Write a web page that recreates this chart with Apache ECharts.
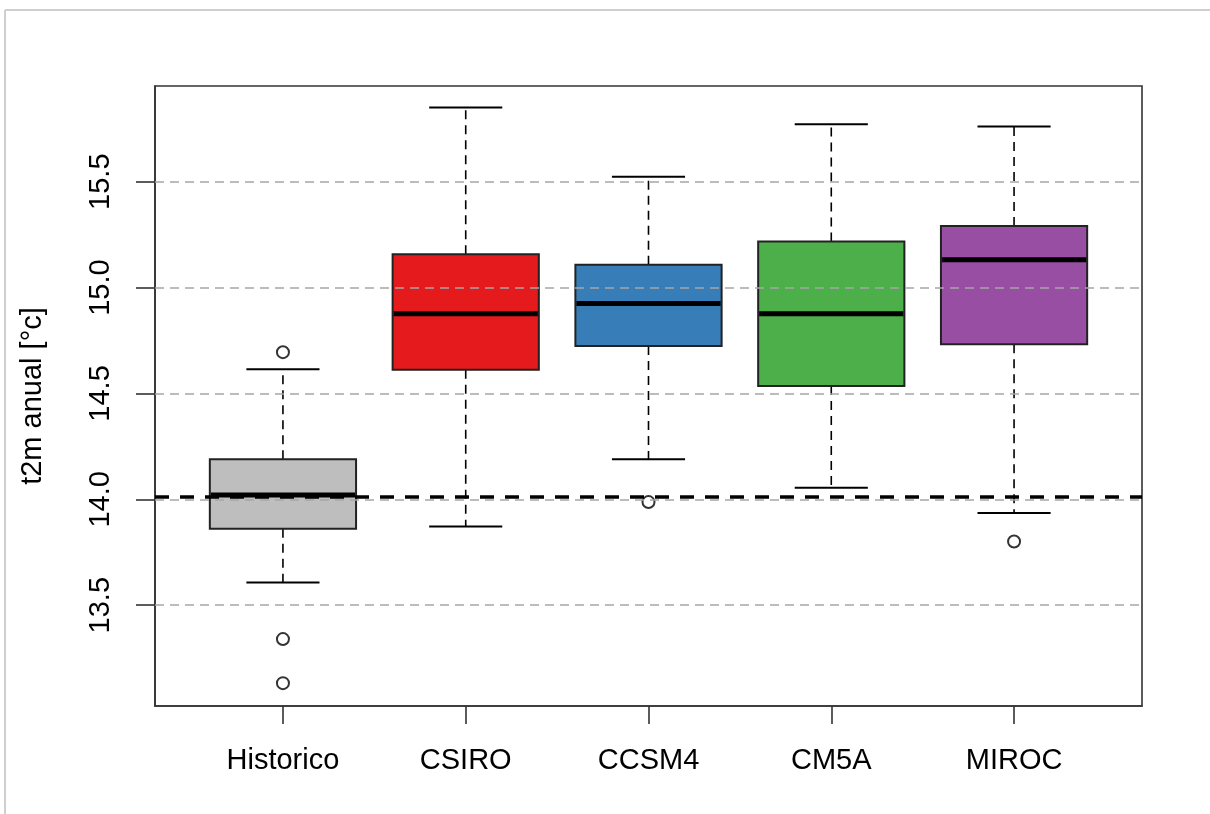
<!DOCTYPE html>
<html>
<head>
<meta charset="utf-8">
<script src="https://cdn.jsdelivr.net/npm/echarts@6/dist/echarts.min.js"></script>
<style>
html,body{margin:0;padding:0;background:#fff;}
#chart{width:1210px;height:814px;}
</style>
</head>
<body>
<div id="chart"></div>
<script>
// ---- data ----
const categories = ['Historico', 'CSIRO', 'CCSM4', 'CM5A', 'MIROC'];
const whiskerLow  = [13.607, 13.872, 14.189, 14.055, 13.935];
const quartile1   = [13.861, 14.612, 14.724, 14.535, 14.732];
const medians     = [14.020, 14.876, 14.925, 14.877, 15.132];
const quartile3   = [14.189, 15.157, 15.108, 15.218, 15.291];
const whiskerHigh = [14.614, 15.850, 15.523, 15.771, 15.761];
const outlierGroup = [1, 1, 1, 3, 5];
const outlierValue = [14.695, 13.340, 13.132, 13.987, 13.801];
const referenceMean = 14.011;
const yTicks = [13.5, 14.0, 14.5, 15.0, 15.5];
const xPositions = [1, 2, 3, 4, 5];
const yRange = [13.024, 15.952];
const xRange = [0.3, 5.7];

// ---- styles ----
const boxColors = ['#BEBEBE', '#E41A1C', '#377EB8', '#4DAF4A', '#984EA3'];
const FONT = '"Liberation Sans", Arial, sans-serif';

const boxData = categories.map((c, i) => [xPositions[i], whiskerLow[i], quartile1[i], medians[i], quartile3[i], whiskerHigh[i]]);
const outlierData = outlierGroup.map((g, i) => [g, outlierValue[i]]);

const chart = echarts.init(document.getElementById('chart'), null, {renderer: 'canvas'});

function renderBox(params, api) {
  const x = api.value(0);
  const lo = api.value(1), q1 = api.value(2), med = api.value(3), q3 = api.value(4), hi = api.value(5);
  const halfBox = 0.4, halfCap = 0.2;
  const pTopL = api.coord([x - halfBox, q3]);
  const pBotR = api.coord([x + halfBox, q1]);
  const pc = api.coord([x, med]);
  const pHi = api.coord([x, hi]);
  const pLo = api.coord([x, lo]);
  const pQ3 = api.coord([x, q3]);
  const pQ1 = api.coord([x, q1]);
  const capL = api.coord([x - halfCap, hi])[0];
  const capR = api.coord([x + halfCap, hi])[0];
  const whisk = {stroke: '#000', lineWidth: 1.6, lineDash: [9, 6]};
  const solid = {stroke: '#000', lineWidth: 2};
  return {
    type: 'group',
    children: [
      {type: 'line', shape: {x1: pc[0], y1: pQ3[1], x2: pc[0], y2: pHi[1]}, style: whisk},
      {type: 'line', shape: {x1: pc[0], y1: pQ1[1], x2: pc[0], y2: pLo[1]}, style: whisk},
      {type: 'line', shape: {x1: capL, y1: pHi[1], x2: capR, y2: pHi[1]}, style: solid},
      {type: 'line', shape: {x1: capL, y1: pLo[1], x2: capR, y2: pLo[1]}, style: solid},
      {type: 'rect', shape: {x: pTopL[0], y: pTopL[1], width: pBotR[0] - pTopL[0], height: pBotR[1] - pTopL[1]},
        style: {fill: boxColors[params.dataIndex], stroke: '#222', lineWidth: 2}},
      {type: 'line', shape: {x1: pTopL[0] + 1, y1: pc[1], x2: pBotR[0] - 1, y2: pc[1]}, style: {stroke: '#000', lineWidth: 5}}
    ]
  };
}

const option = {
  animation: false,
  backgroundColor: '#fff',
  grid: {left: 155, right: 68, top: 86, bottom: 108, show: true, borderColor: '#333', borderWidth: 1.6, backgroundColor: 'transparent'},
  graphic: [
    {type: 'line', shape: {x1: 5, y1: 10, x2: 5, y2: 814}, style: {stroke: '#cfcfcf', lineWidth: 2}, z: 0},
    {type: 'line', shape: {x1: 5, y1: 10, x2: 1210, y2: 10}, style: {stroke: '#cfcfcf', lineWidth: 2}, z: 0}
  ],
  xAxis: {
    type: 'value', min: xRange[0], max: xRange[1],
    splitLine: {show: false},
    axisLine: {show: true, lineStyle: {color: '#333', width: 1.6}},
    axisTick: {show: true, customValues: xPositions, length: 18, lineStyle: {color: '#333', width: 1.6}},
    axisLabel: {customValues: xPositions, margin: 40, color: '#000', fontSize: 29, fontFamily: FONT,
      formatter: v => categories[Math.round(v) - 1]}
  },
  yAxis: {
    type: 'value', min: yRange[0], max: yRange[1],
    name: 't2m anual [°c]', nameLocation: 'middle', nameGap: 108, nameRotate: 90,
    nameTextStyle: {color: '#000', fontSize: 29, fontFamily: FONT},
    splitLine: {show: false},
    axisLine: {show: true, lineStyle: {color: '#333', width: 1.6}},
    axisTick: {show: true, customValues: yTicks, length: 19, lineStyle: {color: '#333', width: 1.6}},
    axisLabel: {customValues: yTicks, rotate: 90, margin: 40, color: '#000', fontSize: 29, fontFamily: FONT,
      formatter: v => v.toFixed(1)}
  },
  series: [
    {
      type: 'line', data: [], z: 1, silent: true,
      markLine: {silent: true, symbol: ['none', 'none'], label: {show: false},
        lineStyle: {color: '#a6a6a6', type: [9, 6], width: 1.6},
        data: yTicks.map(v => ({yAxis: v}))}
    },
    {type: 'custom', z: 2, renderItem: renderBox, data: boxData, silent: true},
    {
      type: 'scatter', z: 3, data: outlierData, symbol: 'emptyCircle', symbolSize: 12, silent: true,
      itemStyle: {color: '#000', borderColor: '#000', borderWidth: 1.5}
    },
    {
      type: 'line', data: [], z: 4, silent: true,
      markLine: {silent: true, symbol: ['none', 'none'], label: {show: false},
        lineStyle: {color: '#000', type: [14, 11], width: 3.5},
        data: [{yAxis: referenceMean}]}
    }
  ]
};
chart.setOption(option);
</script>
</body>
</html>
